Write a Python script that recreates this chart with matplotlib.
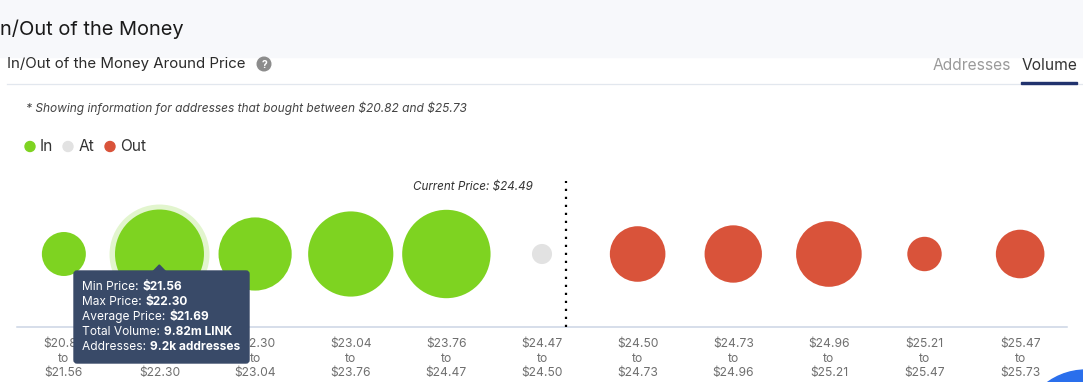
import matplotlib
matplotlib.use("Agg")
import matplotlib.pyplot as plt
from matplotlib.patches import Rectangle, Circle, FancyBboxPatch, Polygon

# ---------------- data ----------------
bin_low = ["$20.82", "$21.56", "$22.30", "$23.04", "$23.76", "$24.47",
           "$24.50", "$24.73", "$24.96", "$25.21", "$25.47"]
bin_high = ["$21.56", "$22.30", "$23.04", "$23.76", "$24.47", "$24.50",
            "$24.73", "$24.96", "$25.21", "$25.47", "$25.73"]
volume_m = [2.40, 9.82, 6.64, 9.00, 9.69, 0.50, 3.83, 4.08, 5.34, 1.47, 2.93]
status = ["In", "In", "In", "In", "In", "At", "Out", "Out", "Out", "Out", "Out"]
current_price = "$24.49"
current_price_pos = 5.25
range_low, range_high = "$20.82", "$25.73"
tooltip_labels = ["Min Price: ", "Max Price: ", "Average Price: ", "Total Volume: ", "Addresses: "]
tooltip_values = ["$21.56", "$22.30", "$21.69", "9.82m LINK", "9.2k addresses"]
highlight = 1


def esc(s):
    return s.replace("$", r"\$")


# ---------------- style ----------------
W, H = 1083, 382
FONT = "Inter"
plt.rcParams["font.family"] = [FONT, "DejaVu Sans"]
colors = {"In": "#7ed321", "At": "#e2e2e2", "Out": "#d9533a"}

fig = plt.figure(figsize=(W / 100, H / 100), dpi=100)
fig.patch.set_facecolor("white")

# main bubble axes (pixel box: x 17..1067, y 181..327)
ax = fig.add_axes([17 / W, 1 - 327 / H, 1050 / W, 146 / H])
ax.set_facecolor("none")
ax.set_xlim(-0.49, 10.49)
ax.set_ylim(0, 1)
for s in ["top", "left", "right"]:
    ax.spines[s].set_visible(False)
ax.spines["bottom"].set_color("#cbd5e4")
ax.spines["bottom"].set_linewidth(1.1)
ax.set_yticks([])

xs = list(range(len(volume_m)))
k = 418.0  # points^2 per million
sizes = [k * v for v in volume_m]
# hover halo
ax.scatter([xs[highlight]], [0.5], s=[sizes[highlight] * 1.262],
           color="#7ed321", alpha=0.22, linewidths=0, zorder=2)
ax.scatter(xs, [0.5] * len(xs), s=sizes, c=[colors[s] for s in status],
           linewidths=0, zorder=3)

ax.axvline(current_price_pos, ymin=0, ymax=1, color="black", lw=1.6,
           linestyle=(0, (1, 2.6)), zorder=4)
ax.text(current_price_pos - 0.35, 0.96, f"Current Price: {esc(current_price)}",
        ha="right", va="center", fontsize=8.4, style="italic", color="#333333",
        transform=ax.get_xaxis_transform())

ax.set_xticks(xs)
ax.set_xticklabels([f"{esc(a)}\nto\n{esc(b)}" for a, b in zip(bin_low, bin_high)],
                   fontsize=8.7, color="#6f6f6f", linespacing=1.28)
ax.tick_params(axis="x", length=0, pad=8)

# overlay in pixel coordinates
ov = fig.add_axes([0, 0, 1, 1], zorder=10)
ov.set_xlim(0, W)
ov.set_ylim(H, 0)
ov.axis("off")

# header band
ov.add_patch(Rectangle((0, 0), W, 57, color="#f7f8fb", zorder=0))
ov.text(0, 29, "n/Out of the Money", fontsize=14.4, color="#1a1a1a",
        va="center", ha="left")
ov.text(7, 64, "In/Out of the Money Around Price", fontsize=10.8,
        color="#2b2b2b", va="center", ha="left")
ov.add_patch(Circle((264, 64), 6.8, color="#8c8c8c", zorder=2))
ov.text(264, 64.5, "?", fontsize=7.5, color="white", fontweight="bold",
        ha="center", va="center", zorder=3)
ov.text(1011, 65, "Addresses", fontsize=11.2, color="#9a9a9a", ha="right", va="center")
ov.text(1022, 65, "Volume", fontsize=11.2, color="#333333", ha="left", va="center")
ov.plot([7, W], [84, 84], color="#e2e7ee", lw=0.9)
ov.add_patch(Rectangle((1021, 81.5), 56, 2.6, color="#21336e", zorder=3))

ov.text(26, 108, "* Showing information for addresses that bought between "
        f"{esc(range_low)} and {esc(range_high)}",
        fontsize=8.6, style="italic", color="#444444", va="center", ha="left")

# legend
leg_x = [(30, 40), (68, 79), (110, 120.5)]
for (cx, tx), name in zip(leg_x, ["In", "At", "Out"]):
    ov.add_patch(Circle((cx, 146.5), 5, color=colors[name]))
    ov.text(tx, 146.5, name, fontsize=11.2, color="#333333", va="center", ha="left")

# tooltip
tt_color = "#394a68"
ov.add_patch(FancyBboxPatch((74 + 3, 271 + 3), 175 - 6, 92 - 6,
                            boxstyle="round,pad=3", color=tt_color, zorder=5))
ov.add_patch(Polygon([[153, 271.5], [159.3, 265], [165.6, 271.5]],
                     closed=True, color=tt_color, zorder=5))
renderer = fig.canvas.get_renderer()
ty = 287.3
for lab, val in zip(tooltip_labels, tooltip_values):
    t = ov.text(82.5, ty, lab, fontsize=8.6, color="white", va="center",
                ha="left", zorder=6)
    wpx = t.get_window_extent(renderer=renderer).width
    ov.text(82.5 + wpx, ty, esc(val), fontsize=8.6, color="white", va="center",
            ha="left", fontweight="bold", zorder=6)
    ty += 14.85

# chat button peeking in corner
ov.add_patch(Circle((1086, 436), 66, color="#2a6fec", zorder=1))

fig.savefig("out.png", dpi=100)
